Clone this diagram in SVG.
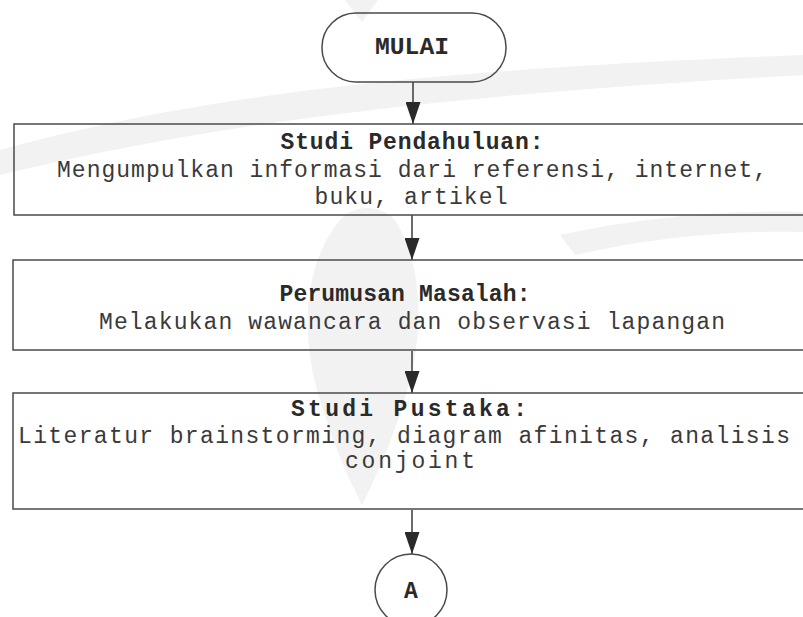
<svg xmlns="http://www.w3.org/2000/svg" width="803" height="617" viewBox="0 0 803 617">
<style>
.box{fill:none;stroke:#4a4a4a;stroke-width:1.5}
.t{font-family:"Liberation Mono","Courier New",monospace;font-size:23px;fill:#3a3a3a;text-anchor:middle}
.b{font-weight:bold;fill:#2a2a2a}
.wm{fill:#f2f2f2}
.conn{stroke:#3a3a3a;stroke-width:1.5;fill:none}
</style>
<defs>
<marker id="arr" markerWidth="22" markerHeight="15" refX="22" refY="7.5" orient="auto" markerUnits="userSpaceOnUse" viewBox="0 0 22 15">
<path d="M0,0 L22,7.5 L0,15 Z" fill="#2a2a2a"/>
</marker>
</defs>
<rect width="803" height="617" fill="#ffffff"/>
<g id="watermark">
<path class="wm" d="M0,150 C200,95 420,70 803,55 L803,75 C450,95 230,120 0,175 Z"/>
<path class="wm" d="M560,235 C650,215 740,210 803,212 L803,232 C730,230 650,238 575,255 Z"/>
<path class="wm" d="M345,215 C310,250 295,320 320,400 C335,450 350,480 362,505 C380,470 400,420 410,380 C425,320 420,260 395,220 C380,205 360,205 345,215 Z"/>
<path class="wm" d="M345,0 L362,22 L378,0 Z"/>
</g>
<g id="connectors">
<line class="conn" x1="413" y1="82" x2="413" y2="124" marker-end="url(#arr)"/>
<line class="conn" x1="412" y1="215" x2="412" y2="260" marker-end="url(#arr)"/>
<line class="conn" x1="412" y1="351" x2="412" y2="393" marker-end="url(#arr)"/>
<line class="conn" x1="412" y1="510" x2="412" y2="554" marker-end="url(#arr)"/>
</g>
<g id="mulai">
<rect class="box" x="322" y="13" width="184" height="69" rx="34" ry="34"/>
<text class="t b" x="412" y="54" textLength="74" lengthAdjust="spacingAndGlyphs">MULAI</text>
</g>
<g id="studi-pendahuluan">
<rect class="box" x="14" y="124" width="800" height="91"/>
<text class="t b" x="412" y="149" textLength="263" lengthAdjust="spacing">Studi Pendahuluan:</text>
<text class="t" x="412" y="177" textLength="710" lengthAdjust="spacing">Mengumpulkan informasi dari referensi, internet,</text>
<text class="t" x="411" y="204" textLength="193" lengthAdjust="spacing">buku, artikel</text>
</g>
<g id="perumusan-masalah">
<rect class="box" x="13" y="260" width="800" height="90"/>
<text class="t b" x="405" y="301" textLength="251" lengthAdjust="spacing">Perumusan Masalah:</text>
<text class="t" x="412" y="329" textLength="626" lengthAdjust="spacing">Melakukan wawancara dan observasi lapangan</text>
</g>
<g id="studi-pustaka">
<rect class="box" x="13" y="393" width="800" height="116"/>
<text class="t b" x="409" y="416" textLength="236" lengthAdjust="spacing">Studi Pustaka:</text>
<text class="t" x="404" y="443" textLength="772" lengthAdjust="spacing">Literatur brainstorming, diagram afinitas, analisis</text>
<text class="t" x="410" y="468" textLength="130" lengthAdjust="spacing">conjoint</text>
</g>
<g id="connector-a">
<circle class="box" cx="411" cy="590" r="36"/>
<text class="t b" x="411" y="598" font-size="24">A</text>
</g>
</svg>
